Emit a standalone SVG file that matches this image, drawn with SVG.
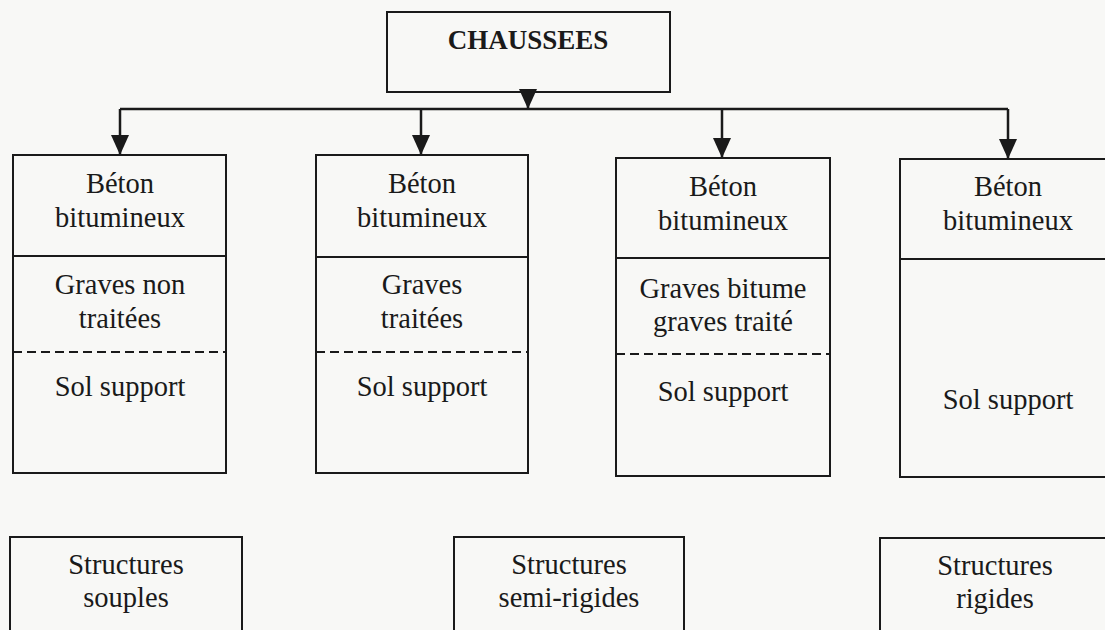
<svg xmlns="http://www.w3.org/2000/svg" width="1105" height="630" viewBox="0 0 1105 630">
<style>
.box{fill:none;stroke:#1a1a1a;stroke-width:2}
.div{stroke:#1a1a1a;stroke-width:2}
.dash{stroke:#1a1a1a;stroke-width:2;stroke-dasharray:9,5}
.t{font-family:"Liberation Serif","Times New Roman",serif;font-size:28.5px;fill:#1a1a1a;text-anchor:middle}
.title{font-family:"Liberation Serif","Times New Roman",serif;font-size:27px;font-weight:bold;fill:#1a1a1a;text-anchor:middle}
.con{fill:none;stroke:#1a1a1a;stroke-width:2.5}
</style>
<defs>
<marker id="ah" markerUnits="userSpaceOnUse" viewBox="0 0 20 18" markerWidth="20" markerHeight="18" refX="20" refY="9" orient="auto">
<path d="M0,0 L20,9 L0,18 z" fill="#1a1a1a"/>
</marker>
</defs>
<rect width="1105" height="630" fill="#f8f8f6"/>

<g id="connectors">
<path class="con" d="M528,92 V109" marker-end="url(#ah)"/>
<path class="con" d="M120,109 H1008"/>
<path class="con" d="M120,109 V155" marker-end="url(#ah)"/>
<path class="con" d="M421,109 V155" marker-end="url(#ah)"/>
<path class="con" d="M722,109 V158" marker-end="url(#ah)"/>
<path class="con" d="M1008,109 V159" marker-end="url(#ah)"/>
</g>

<g id="chaussees">
<rect class="box" x="387" y="12" width="283" height="80"/>
<text class="title" x="528" y="49">CHAUSSEES</text>
</g>

<g id="col1">
<rect class="box" x="13" y="155" width="213" height="318"/>
<line class="div" x1="13" y1="256" x2="226" y2="256"/>
<line class="dash" x1="13" y1="352" x2="226" y2="352"/>
<text class="t" x="120" y="193">Béton</text>
<text class="t" x="120" y="227">bitumineux</text>
<text class="t" x="120" y="294">Graves non</text>
<text class="t" x="120" y="328">traitées</text>
<text class="t" x="120" y="396">Sol support</text>
</g>

<g id="col2">
<rect class="box" x="316" y="155" width="212" height="318"/>
<line class="div" x1="316" y1="257" x2="528" y2="257"/>
<line class="dash" x1="316" y1="352" x2="528" y2="352"/>
<text class="t" x="422" y="193">Béton</text>
<text class="t" x="422" y="227">bitumineux</text>
<text class="t" x="422" y="294">Graves</text>
<text class="t" x="422" y="328">traitées</text>
<text class="t" x="422" y="396">Sol support</text>
</g>

<g id="col3">
<rect class="box" x="616" y="158" width="214" height="318"/>
<line class="div" x1="616" y1="258" x2="830" y2="258"/>
<line class="dash" x1="616" y1="354" x2="830" y2="354"/>
<text class="t" x="723" y="196">Béton</text>
<text class="t" x="723" y="230">bitumineux</text>
<text class="t" x="723" y="298">Graves bitume</text>
<text class="t" x="723" y="331">graves traité</text>
<text class="t" x="723" y="401">Sol support</text>
</g>

<g id="col4">
<rect class="box" x="900" y="159" width="220" height="318"/>
<line class="div" x1="900" y1="259" x2="1110" y2="259"/>
<text class="t" x="1008" y="196">Béton</text>
<text class="t" x="1008" y="230">bitumineux</text>
<text class="t" x="1008" y="409">Sol support</text>
</g>

<g id="souples">
<rect class="box" x="10" y="537" width="232" height="110"/>
<text class="t" x="126" y="574">Structures</text>
<text class="t" x="126" y="607">souples</text>
</g>

<g id="semi-rigides">
<rect class="box" x="454" y="537" width="230" height="110"/>
<text class="t" x="569" y="574">Structures</text>
<text class="t" x="569" y="607">semi-rigides</text>
</g>

<g id="rigides">
<rect class="box" x="880" y="538" width="240" height="110"/>
<text class="t" x="995" y="575">Structures</text>
<text class="t" x="995" y="608">rigides</text>
</g>
</svg>
